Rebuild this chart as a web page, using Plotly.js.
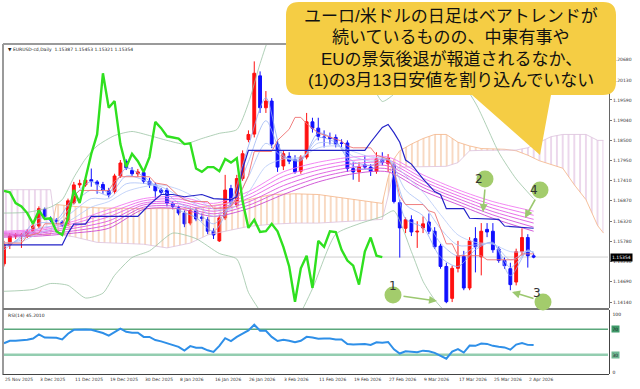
<!DOCTYPE html>
<html><head><meta charset="utf-8">
<script src="https://cdn.plot.ly/plotly-3.0.1.min.js"></script>
<style>html,body{margin:0;padding:0;background:#fff;}#chart{width:640px;height:389px;}</style>
</head><body><div id="chart"></div>
<script>
// ---------------- DATA ----------------
const symbolHeader = "▼ EURUSD-cd,Daily  1.15387 1.15453 1.15321 1.15354";
const rsiHeader = "RSI(14) 45.2010";
const lastPrice = 1.15354;
const open = [
1.1517,1.1568,1.1592,1.1593,1.1592,1.1605,1.1619,1.1664,1.1640,1.1635,
1.1630,1.1627,1.1681,1.1730,1.1730,1.1744,1.1738,1.1731,1.1714,1.1712,
1.1754,1.1793,1.1769,1.1760,1.1763,1.1740,1.1730,1.1716,1.1716,1.1679,
1.1668,1.1654,1.1627,1.1661,1.1643,1.1636,1.1605,1.1579,1.1641,1.1720,
1.1676,1.1747,1.1852,1.1867,1.2024,1.1938,1.1956,1.1840,1.1781,1.1807,
1.1798,1.1767,1.1805,1.1900,1.1883,1.1859,1.1858,1.1858,1.1843,1.1843,
1.1774,1.1765,1.1784,1.1778,1.1767,1.1799,1.1787,1.1784,1.1682,1.1613,
1.1636,1.1603,1.1614,1.1630,1.1605,1.1565,1.1510,1.1424,1.1505,1.1537,
1.1452,1.1585,1.1536,1.1610,1.1605,1.1557,1.1526,1.1504,1.1468,1.1550,
1.1588,1.15387];
const high = [
1.1579,1.1600,1.1600,1.1600,1.1611,1.1627,1.1672,1.1669,1.1645,1.1640,
1.1635,1.1693,1.1738,1.1744,1.1749,1.1774,1.1743,1.1738,1.1722,1.1760,
1.1797,1.1799,1.1778,1.1773,1.1768,1.1749,1.1736,1.1722,1.1722,1.1685,
1.1674,1.1661,1.1669,1.1669,1.1653,1.1643,1.1613,1.1648,1.1757,1.1730,
1.1757,1.1823,1.1877,1.2063,1.2036,1.1983,1.1964,1.1850,1.1823,1.1818,
1.1810,1.1810,1.1924,1.1911,1.1911,1.1877,1.1871,1.1866,1.1853,1.1850,
1.1791,1.1791,1.1810,1.1786,1.1818,1.1818,1.1813,1.1791,1.1690,1.1642,
1.1648,1.1632,1.1645,1.1653,1.1616,1.1571,1.1520,1.1512,1.1579,1.1552,
1.1589,1.1616,1.1627,1.1627,1.1627,1.1565,1.1534,1.1520,1.1558,1.1613,
1.1597,1.15453];
const low = [
1.1510,1.1557,1.1584,1.1560,1.1587,1.1600,1.1613,1.1640,1.1629,1.1624,
1.1616,1.1619,1.1677,1.1722,1.1725,1.1725,1.1706,1.1706,1.1696,1.1706,
1.1749,1.1770,1.1754,1.1752,1.1733,1.1722,1.1693,1.1704,1.1672,1.1664,
1.1648,1.1616,1.1621,1.1632,1.1632,1.1597,1.1584,1.1576,1.1635,1.1672,
1.1669,1.1741,1.1845,1.1858,1.1924,1.1924,1.1829,1.1765,1.1770,1.1786,
1.1760,1.1760,1.1799,1.1871,1.1850,1.1831,1.1839,1.1831,1.1831,1.1765,
1.1744,1.1738,1.1773,1.1754,1.1760,1.1783,1.1765,1.1680,1.1534,1.1600,
1.1592,1.1560,1.1600,1.1597,1.1557,1.1504,1.1411,1.1414,1.1494,1.1446,
1.1446,1.1494,1.1486,1.1589,1.1547,1.1520,1.1504,1.1446,1.1459,1.1539,
1.1507,1.15321];
const close = [
1.1568,1.1592,1.1595,1.1595,1.1605,1.1619,1.1666,1.1645,1.1635,1.1632,
1.1621,1.1687,1.1730,1.1734,1.1743,1.1740,1.1732,1.1716,1.1703,1.1754,
1.1789,1.1776,1.1760,1.1765,1.1740,1.1730,1.1714,1.1710,1.1681,1.1672,
1.1654,1.1625,1.1661,1.1638,1.1640,1.1605,1.1595,1.1641,1.1716,1.1681,
1.1747,1.1814,1.1866,1.2031,1.1938,1.1956,1.1840,1.1778,1.1814,1.1794,
1.1765,1.1805,1.1900,1.1883,1.1861,1.1858,1.1855,1.1840,1.1842,1.1774,
1.1765,1.1778,1.1778,1.1767,1.1800,1.1790,1.1802,1.1685,1.1614,1.1636,
1.1603,1.1605,1.1625,1.1605,1.1563,1.1510,1.1415,1.1505,1.1539,1.1452,
1.1579,1.1563,1.1605,1.1603,1.1555,1.1526,1.1512,1.1461,1.1550,1.1588,
1.1539,1.15354];
// chikou span (drawn from bar 0)
const chikou = [
1.1714,1.1710,1.1681,1.1672,1.1654,1.1625,1.1661,1.1638,1.1640,1.1605,
1.1595,1.1641,1.1716,1.1681,1.1747,1.1814,1.1866,1.2031,1.1938,1.1956,
1.1840,1.1778,1.1814,1.1794,1.1765,1.1805,1.1900,1.1883,1.1861,1.1858,
1.1855,1.1840,1.1842,1.1774,1.1765,1.1778,1.1778,1.1767,1.1800,1.1790,
1.1802,1.1685,1.1614,1.1636,1.1603,1.1605,1.1625,1.1605,1.1563,1.1510,
1.1415,1.1505,1.1539,1.1452,1.1579,1.1563,1.1605,1.1603,1.1555,1.1526,
1.1512,1.1461,1.1550,1.1588,1.1539,1.15354];
const tenkanIdx = [0,3,4,6,7,10,11,12,13,18,19,20,25,26,28,29,30,31,32,35,36,38,39,40,41,42,43,46,47,49,50,51,52,54,56,58,59,60,63,64,66,67,68,69,72,73,74,75,76,77,78,82,83,88,89,91];
const tenkan = [1.1573,1.1573,1.1592,1.1600,1.1625,1.1625,1.1650,1.1700,1.1715,1.1715,1.1740,1.1752,1.1752,1.1735,1.1730,1.1715,1.1700,1.1690,1.1685,1.1685,1.1667,1.1667,1.1672,1.1695,1.1720,1.1755,1.1820,1.1820,1.1850,1.1880,1.1912,1.1912,1.1895,1.1870,1.1860,1.1848,1.1835,1.1830,1.1830,1.1810,1.1800,1.1770,1.1700,1.1677,1.1677,1.1660,1.1655,1.1613,1.1571,1.1571,1.1539,1.1539,1.1528,1.1528,1.1544,1.1544];
const kijunIdx = [0,10,11,12,14,15,23,25,27,29,31,34,36,39,40,41,42,62,63,65,66,67,68,69,70,72,74,75,76,79,80,85,86,91];
const kijun = [1.1568,1.1568,1.1600,1.1624,1.1624,1.1645,1.1645,1.1677,1.1704,1.1704,1.1698,1.1704,1.1693,1.1690,1.1698,1.1773,1.1823,1.1823,1.1845,1.1885,1.1893,1.1871,1.1845,1.1797,1.1786,1.1746,1.1712,1.1704,1.1666,1.1666,1.1640,1.1637,1.1619,1.1613];
// Ichimoku cloud (already shifted forward)
const cloudIdx = [0,4,8,9,12,16,20,24,28,32,35,38,42,46,50,54,58,62,65,66,67,68,70,72,74,76,78,80,82,86,88,90,92,94,96,98,100,102,103];
const spanA = [1.1595,1.1595,1.1596,1.1677,1.1672,1.1668,1.1666,1.1666,1.1666,1.1666,1.1672,1.1680,1.1690,1.1704,1.1706,1.1704,1.1695,1.1685,1.1680,1.1750,1.1800,1.1822,1.1840,1.1855,1.1866,1.1866,1.1845,1.1835,1.1828,1.1826,1.1822,1.1810,1.1795,1.1785,1.1775,1.1730,1.1690,1.1620,1.1600];
const spanB = [1.1717,1.1717,1.1717,1.1597,1.1590,1.1575,1.1572,1.1570,1.1560,1.1573,1.1595,1.1605,1.1618,1.1624,1.1627,1.1627,1.1630,1.1635,1.1637,1.1700,1.1770,1.1778,1.1778,1.1778,1.1778,1.1780,1.1790,1.1822,1.1823,1.1823,1.1824,1.1830,1.1845,1.1860,1.1866,1.1866,1.1866,1.1850,1.1850];
// GMMA long-term group
const gmmaLongIdx = [0,6,12,18,24,30,36,42,48,54,60,66,72,78,84,91];
const gmmaL1 = [1.1605,1.1611,1.1632,1.1664,1.1693,1.1698,1.1680,1.1712,1.1765,1.1791,1.1805,1.1805,1.1757,1.1717,1.1685,1.1659];
const gmmaL2 = [1.1602,1.1607,1.1626,1.1654,1.1687,1.1692,1.1673,1.1703,1.1753,1.1780,1.1796,1.1797,1.1748,1.1709,1.1676,1.1648];
const gmmaL3 = [1.1599,1.1603,1.1619,1.1644,1.1681,1.1685,1.1666,1.1694,1.1741,1.1770,1.1787,1.1789,1.1740,1.1701,1.1667,1.1637];
const gmmaL4 = [1.1595,1.1600,1.1613,1.1633,1.1676,1.1679,1.1659,1.1684,1.1728,1.1759,1.1778,1.1781,1.1731,1.1693,1.1658,1.1627];
const gmmaL5 = [1.1592,1.1596,1.1606,1.1623,1.1670,1.1672,1.1652,1.1675,1.1716,1.1749,1.1769,1.1773,1.1723,1.1685,1.1649,1.1616];
const gmmaL6 = [1.1589,1.1592,1.1600,1.1613,1.1664,1.1666,1.1645,1.1666,1.1704,1.1738,1.1760,1.1765,1.1714,1.1677,1.1640,1.1605];
// GMMA short-term group
const gmmaShortIdx = [0,3,6,9,12,15,18,21,24,27,30,33,36,39,42,45,48,51,54,57,60,63,66,69,72,75,78,81,84,87,90,91];
const gmmaS1 = [1.1555,1.1592,1.1640,1.1636,1.1700,1.1739,1.1710,1.1775,1.1752,1.1714,1.1663,1.1642,1.1605,1.1685,1.1835,1.1965,1.1810,1.1795,1.1870,1.1848,1.1780,1.1772,1.1798,1.1638,1.1615,1.1535,1.1510,1.1555,1.1575,1.1485,1.1555,1.1545];
const gmmaS2 = [1.1562,1.1587,1.1627,1.1629,1.1680,1.1716,1.1702,1.1754,1.1743,1.1719,1.1681,1.1660,1.1625,1.1678,1.1793,1.1903,1.1807,1.1798,1.1857,1.1844,1.1793,1.1783,1.1799,1.1677,1.1647,1.1573,1.1538,1.1562,1.1573,1.1507,1.1553,1.1547];
const gmmaS3 = [1.1568,1.1582,1.1613,1.1622,1.1660,1.1693,1.1693,1.1733,1.1734,1.1725,1.1700,1.1677,1.1645,1.1672,1.1752,1.1842,1.1803,1.1802,1.1843,1.1839,1.1807,1.1794,1.1800,1.1716,1.1678,1.1612,1.1567,1.1568,1.1572,1.1528,1.1552,1.1548];
const gmmaS4 = [1.1575,1.1577,1.1600,1.1615,1.1640,1.1670,1.1685,1.1712,1.1725,1.1730,1.1718,1.1695,1.1665,1.1665,1.1710,1.1780,1.1800,1.1805,1.1830,1.1835,1.1820,1.1805,1.1800,1.1755,1.1710,1.1650,1.1595,1.1575,1.1570,1.1550,1.1550,1.1550];
// Bollinger bands
const bbUpperIdx = [0,4,8,10,12,14,16,19,22,25,28,31,34,37,40,42,44,46,50,55,60,63,65,67,70,75,81,85,88,91];
const bbUpper = [1.1654,1.1656,1.1670,1.1690,1.1750,1.1800,1.1835,1.1863,1.1874,1.1863,1.1850,1.1840,1.1855,1.1869,1.1879,1.1950,1.2057,1.2140,1.2180,1.2170,1.2130,1.2010,1.1955,1.1975,1.2050,1.2080,1.1951,1.1818,1.1746,1.1693];
const bbLowerIdx = [0,5,8,11,14,17,19,22,25,29,33,37,40,42,44,47,50,53,57,61,65,67,70,72,74,77,82,86,91];
const bbLower = [1.1443,1.1448,1.1464,1.1459,1.1425,1.1438,1.1486,1.1534,1.1552,1.1600,1.1585,1.1545,1.1530,1.1440,1.1390,1.1330,1.1360,1.1450,1.1597,1.1625,1.1645,1.1660,1.1550,1.1470,1.1420,1.1370,1.1330,1.1360,1.1385];
// RSI(14)
const rsi = [
48,52,52,52.5,53.5,55.5,62,57,57,56.5,
54,63,69,69.5,69.5,69,67,64,60,66,
71,66,64.5,64.5,58,58,53,51,48,45,
42.5,36.5,43.5,41,41,37,34.5,44,56,51.5,
58,63,68,77,67.5,67.5,58,51.5,53.5,52,
49.5,52,58,57,55,55.5,55.5,54,54,47,
46,46.5,47,45.5,49.5,49,50,38.5,32,35.5,
34.5,34,36.5,35.5,33,28.5,24,35,39,33.5,
44.5,44,47.5,47,44,42.5,41.5,38,46,48.5,
45.5,45.2];
const rsiLevels = [70, 30];
// axis labels
const dateIdx = [0,6,12,18,24,30,36,42,48,54,60,66,72,78,84,90];
const dateLabels = ["25 Nov 2025","3 Dec 2025","11 Dec 2025","19 Dec 2025","30 Dec 2025","8 Jan 2026","16 Jan 2026","26 Jan 2026","3 Feb 2026","11 Feb 2026","19 Feb 2026","27 Feb 2026","9 Mar 2026","17 Mar 2026","25 Mar 2026","2 Apr 2026"];
const priceTicks = [1.2068,1.2013,1.1959,1.1904,1.1850,1.1795,1.1741,1.1687,1.1632,1.1578,1.1523,1.1469,1.1414];
const priceTickText = ["1.20680","1.20130","1.19590","1.19040","1.18500","1.17950","1.17410","1.16870","1.16320","1.15780","1.15230","1.14690","1.14140"];
const bubbleLines = ["ユーロ/米ドルの日足はベアトレンドが","続いているものの、中東有事や","EUの景気後退が報道されるなか、","(1)の3月13日安値を割り込んでいない"];
const markerLabels = ["1","2","3","4"];

// ---------------- LAYOUT HELPERS (pixels) ----------------
const W=640,H=389;
const px = v=>v/W, py = v=>1-v/H;
const xRange=[-0.17,103.95];
const barIdx = close.map((_,i)=>i);

const traces=[];
// cloud segments
(function(){
  const segs=[]; let cur=null;
  for(let k=0;k<cloudIdx.length;k++){
    const up = spanA[k]>=spanB[k];
    if(!cur||cur.up!==up){cur={up,x:[],a:[],b:[]};segs.push(cur);}
    cur.x.push(cloudIdx[k]);cur.a.push(spanA[k]);cur.b.push(spanB[k]);
  }
  segs.forEach(s=>{
    const col = s.up ? '#f2b88e' : '#dcb4dc';
    traces.push({type:'scatter',mode:'lines',x:s.x,y:s.b,line:{width:0,color:col},hoverinfo:'skip'});
    traces.push({type:'scatter',mode:'lines',x:s.x,y:s.a,line:{width:0,color:col},fill:'tonexty',
      fillcolor:'rgba(0,0,0,0)',fillpattern:{shape:'|',size:5.8,solidity:0.18,fgcolor:col,bgcolor:'rgba(0,0,0,0)'},hoverinfo:'skip'});
  });
})();
traces.push({type:'scatter',mode:'lines',x:cloudIdx,y:spanA,line:{width:0.8,color:'#f4b385'}});
traces.push({type:'scatter',mode:'lines',x:cloudIdx,y:spanB,line:{width:0.8,color:'#dcc0dc'}});
// Bollinger
traces.push({type:'scatter',mode:'lines',x:bbUpperIdx,y:bbUpper,line:{width:0.8,color:'#9cc4a4',shape:'spline',smoothing:0.6}});
traces.push({type:'scatter',mode:'lines',x:bbLowerIdx,y:bbLower,line:{width:0.8,color:'#9cc4a4',shape:'spline',smoothing:0.6}});
// GMMA
[gmmaL1,gmmaL2,gmmaL3,gmmaL4,gmmaL5,gmmaL6].forEach((arr,k)=>{
  const cols=['#f27af2','#ec6cec','#e560e6','#de58e0','#d650da','#cc48d2'];
  traces.push({type:'scatter',mode:'lines',x:gmmaLongIdx,y:arr,line:{width:0.9,color:cols[k],shape:'spline',smoothing:0.8}});
});
[gmmaS1,gmmaS2,gmmaS3,gmmaS4].forEach((arr,k)=>{
  const cols=['#8eaaf2','#9db6f4','#aac0f6','#b8caf8'];
  traces.push({type:'scatter',mode:'lines',x:gmmaShortIdx,y:arr,line:{width:0.8,color:cols[k],shape:'spline',smoothing:0.8}});
});
// Ichimoku lines
traces.push({type:'scatter',mode:'lines',x:tenkanIdx,y:tenkan,line:{width:0.9,color:'#ee7272'}});
traces.push({type:'scatter',mode:'lines',x:kijunIdx,y:kijun,line:{width:1.2,color:'#2323c8'}});
traces.push({type:'scatter',mode:'lines',x:barIdx.slice(0,chikou.length),y:chikou,line:{width:2.4,color:'#2fe01f'}});
// candles
traces.push({type:'candlestick',x:barIdx,open,high,low,close,whiskerwidth:0,
  increasing:{line:{color:'#ff1010',width:1},fillcolor:'#ff1010'},
  decreasing:{line:{color:'#1010ff',width:1},fillcolor:'#1010ff'},hoverinfo:'skip'});
// RSI
traces.push({type:'scatter',mode:'lines',x:barIdx,y:rsi,xaxis:'x2',yaxis:'y2',line:{width:2,color:'#2e8fe8'}});

const shapes=[];
const ann=[];
// frame
shapes.push({type:'line',xref:'paper',yref:'paper',x0:px(3),x1:px(609),y0:py(44),y1:py(44),line:{color:'#9a9a9a',width:2}});
shapes.push({type:'line',xref:'paper',yref:'paper',x0:px(3),x1:px(3),y0:py(44),y1:py(375),line:{color:'#9a9a9a',width:2}});
shapes.push({type:'line',xref:'paper',yref:'paper',x0:px(3),x1:px(609),y0:py(309),y1:py(309),line:{color:'#777',width:2}});
shapes.push({type:'line',xref:'paper',yref:'paper',x0:px(3),x1:px(609),y0:py(374.5),y1:py(374.5),line:{color:'#444',width:1}});
// last price line
shapes.push({type:'line',xref:'paper',yref:'y',x0:px(3),x1:px(608),y0:lastPrice,y1:lastPrice,line:{color:'#cfcfcf',width:1},layer:'below'});
// RSI levels
rsiLevels.forEach((lv,k)=>shapes.push({type:'line',xref:'paper',yref:'y2',x0:px(3),x1:px(608),y0:lv,y1:lv,
  line:{color:k===0?'#5ba87c':'#93cdb0',width:k===0?1.5:2.5},layer:'below'}));
// speech bubble
const bx0=286,bx1=616,by0=2,by1=95,r=13;
const path=`M ${px(bx0+r)},${py(by0)} L ${px(bx1-r)},${py(by0)} Q ${px(bx1)},${py(by0)} ${px(bx1)},${py(by0+r)} L ${px(bx1)},${py(by1-r)} Q ${px(bx1)},${py(by1)} ${px(bx1-r)},${py(by1)} L ${px(551)},${py(by1)} L ${px(540)},${py(155)} L ${px(472)},${py(by1)} L ${px(bx0+r)},${py(by1)} Q ${px(bx0)},${py(by1)} ${px(bx0)},${py(by1-r)} L ${px(bx0)},${py(by0+r)} Q ${px(bx0)},${py(by0)} ${px(bx0+r)},${py(by0)} Z`;
shapes.push({type:'path',xref:'paper',yref:'paper',path,fillcolor:'#f5cd44',line:{width:0},layer:'above'});
const lineY=[16.5,38,59.5,81];
bubbleLines.forEach((t,k)=>ann.push({xref:'paper',yref:'paper',x:px(451),y:py(lineY[k]),text:t,showarrow:false,
  xanchor:'center',yanchor:'middle',font:{family:'Liberation Sans, Noto Sans CJK JP',size:17,color:'#111'}}));
// numbered markers
const circ=[[393,295],[485,179],[543,302],[540,190]];
const tips=[[437,301],[483,212],[512,292],[525,218]];
const tails=[[402,296],[485,188],[535,299],[536,198]];
circ.forEach((c,k)=>{
  ann.push({xref:'paper',yref:'paper',x:px(tips[k][0]),y:py(tips[k][1]),ax:tails[k][0]-tips[k][0],ay:tails[k][1]-tips[k][1],
    text:'',showarrow:true,arrowhead:2,arrowsize:1,arrowwidth:1.6,arrowcolor:'#9cc870'});
  shapes.push({type:'circle',xref:'paper',yref:'paper',x0:px(c[0]-8.5),x1:px(c[0]+8.5),y0:py(c[1]+8.5),y1:py(c[1]-8.5),
    fillcolor:'#a3cc6c',line:{width:0},layer:'above'});
  ann.push({xref:'paper',yref:'paper',x:px(c[0]),y:py(c[1]),text:markerLabels[k],showarrow:false,
    font:{family:'DejaVu Sans',size:12,color:'#333'}});
});
// headers
ann.push({xref:'paper',yref:'paper',x:px(6),y:py(49),text:symbolHeader,showarrow:false,xanchor:'left',yanchor:'middle',font:{family:'DejaVu Sans',size:4.5,color:'#222'}});
ann.push({xref:'paper',yref:'paper',x:px(6),y:py(315),text:rsiHeader,showarrow:false,xanchor:'left',yanchor:'middle',font:{family:'DejaVu Sans',size:4.5,color:'#222'}});
// last price box
ann.push({xref:'paper',yref:'y',x:px(610),y:lastPrice,text:'1.15354',showarrow:false,xanchor:'left',yanchor:'middle',
  bgcolor:'#000',borderpad:1,font:{family:'DejaVu Sans',size:4.5,color:'#fff'}});
// RSI scale labels
[[100,314,null],[70,329.3,'#3f9a6a'],[30,354.7,'#6fb894'],[0,372,null]].forEach(d=>{
  ann.push({xref:'paper',yref:'paper',x:px(611),y:py(d[1]),text:String(d[0]),showarrow:false,xanchor:'left',yanchor:'middle',
    bgcolor:d[2]||'rgba(0,0,0,0)',borderpad:0.5,font:{family:'DejaVu Sans',size:4.5,color:'#222'}});
});
// date labels
dateIdx.forEach((d,k)=>ann.push({xref:'x2',yref:'paper',x:d,y:py(379.5),text:dateLabels[k],showarrow:false,xanchor:'left',xshift:-1,
  yanchor:'middle',font:{family:'DejaVu Sans',size:4.4,color:'#333'}}));

const layout={
  width:W,height:H,margin:{l:0,r:0,t:0,b:0},paper_bgcolor:'#fff',plot_bgcolor:'#fff',showlegend:false,hovermode:false,
  xaxis:{domain:[px(3),px(609)],range:xRange,showgrid:false,zeroline:false,showticklabels:false,rangeslider:{visible:false},fixedrange:true,anchor:'y'},
  yaxis:{domain:[py(308),py(44)],range:[1.13980,1.21099],side:'right',anchor:'x',tickvals:priceTicks,ticktext:priceTickText,
    tickfont:{family:'DejaVu Sans',size:4.5,color:'#333'},ticks:'outside',ticklen:2,tickcolor:'#777',showgrid:false,zeroline:false,
    showline:true,linecolor:'#666',linewidth:1,fixedrange:true},
  xaxis2:{domain:[px(3),px(609)],range:xRange,showgrid:false,zeroline:false,showticklabels:false,anchor:'y2',fixedrange:true},
  yaxis2:{domain:[py(374),py(310)],range:[0,100],side:'right',anchor:'x2',showticklabels:false,showgrid:false,zeroline:false,
    showline:true,linecolor:'#444',linewidth:1,fixedrange:true},
  shapes,annotations:ann
};
Plotly.newPlot('chart',traces,layout,{staticPlot:true,displayModeBar:false});
</script></body></html>
